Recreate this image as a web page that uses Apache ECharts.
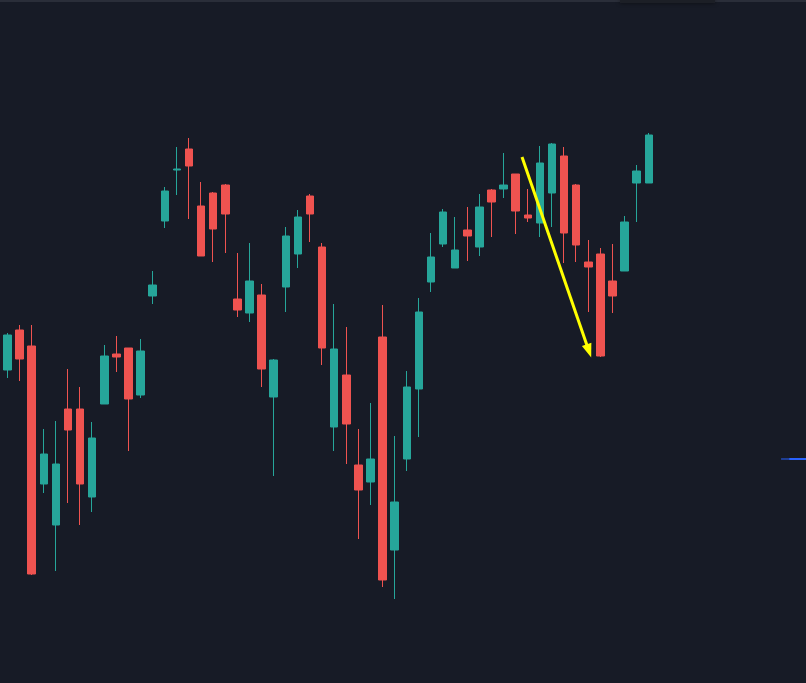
<!DOCTYPE html>
<html>
<head>
<meta charset="utf-8">
<style>
html,body{margin:0;padding:0;background:#171b26;}
#chart{width:806px;height:683px;}
</style>
<script src="https://cdn.jsdelivr.net/npm/echarts@6/dist/echarts.min.js"></script>
</head>
<body>
<div id="chart"></div>
<script>
// Candle values (price units), one entry per session
const opens  = [4230,4270,4254,4116,4075,4191,4191,4103,4196,4246,4252,4205,4304,4379,4430,4451,4394,4407,4415,4301,4287,4305,4203,4313,4346,4404,4353,4173,4225,4135,4118,4263,4050,4141,4211,4318,4356,4332,4370,4353,4410,4411,4426,4385,4377,4407,4444,4415,4338,4346,4319,4329,4417,4417];
const closes = [4265,4241,4026,4146,4136,4170,4116,4162,4244,4243,4201,4249,4315,4409,4431,4434,4344,4371,4386,4290,4319,4231,4240,4364,4383,4386,4252,4251,4176,4110,4141,4020,4098,4213,4288,4343,4388,4350,4364,4393,4398,4415,4389,4382,4437,4456,4367,4355,4333,4244,4304,4378,4429,4465];
const lows   = [4222,4219,4025,4107,4029,4097,4075,4088,4196,4228,4149,4202,4296,4372,4405,4381,4344,4338,4347,4283,4278,4213,4124,4288,4332,4358,4235,4149,4136,4061,4095,4013,4001,4129,4163,4308,4353,4332,4339,4344,4363,4402,4366,4378,4363,4373,4337,4338,4288,4243,4287,4329,4378,4417];
const highs  = [4267,4275,4275,4171,4179,4231,4213,4178,4255,4264,4252,4261,4329,4413,4453,4462,4418,4408,4416,4347,4357,4316,4241,4373,4390,4406,4357,4296,4273,4171,4197,4295,4164,4229,4302,4367,4391,4383,4393,4406,4411,4447,4426,4411,4454,4457,4453,4416,4360,4352,4356,4384,4435,4467];
const sessions = opens.map((_, i) => i); // category index per candle

// Annotation: drawn trend arrow (start -> end) in [session, price]
const arrowStart = [42.52, 4443];
const arrowEnd   = [48.05, 4249];
// Short price line at the right edge
const priceLineLevel = 4141;
const priceLineFrom  = 63.93;
const priceLineMid   = 64.6;
const priceLineTo    = 66;

const candleData = sessions.map(i => [i, opens[i], closes[i], lows[i], highs[i]]);

const chart = echarts.init(document.getElementById('chart'), null, {renderer: 'canvas'});
chart.setOption({
  backgroundColor: '#171b26',
  animation: false,
  grid: {left: 0, right: 0, top: 0, bottom: 0},
  xAxis: {
    type: 'value', min: -0.62, max: 65.99,
    show: false, splitLine: {show: false}
  },
  yAxis: {
    type: 'value', min: 3917, max: 4600,
    show: false, splitLine: {show: false}
  },
  graphic: [
    {type: 'rect', shape: {x: 0, y: 0, width: 806, height: 2}, style: {fill: '#2a2e39'}, z: 100},
    {type: 'rect', shape: {x: 620, y: 0, width: 95, height: 3}, style: {fill: '#1c1f26', shadowBlur: 4, shadowColor: 'rgba(0,0,0,0.6)'}, z: 101}
  ],
  series: [
    {
      type: 'candlestick',
      data: candleData,
      encode: {x: 0, y: [1, 2, 3, 4]},
      barWidth: 8,
      itemStyle: {
        color: '#26a69a', color0: '#ef5350',
        borderColor: '#26a69a', borderColor0: '#ef5350',
        borderWidth: 1
      },
      markLine: {
        silent: true,
        animation: false,
        label: {show: false},
        lineStyle: {color: '#ffff00', width: 3, type: 'solid'},
        data: [[
          {coord: arrowStart, symbol: 'none'},
          {coord: arrowEnd, symbol: 'triangle', symbolSize: [10, 14]}
        ]]
      }
    },
    {
      type: 'line',
      data: [[priceLineFrom, priceLineLevel], [priceLineMid, priceLineLevel]],
      symbol: 'none',
      lineStyle: {color: '#2962ff', width: 1},
      silent: true
    },
    {
      type: 'line',
      data: [[priceLineMid, priceLineLevel], [priceLineTo, priceLineLevel]],
      symbol: 'none',
      lineStyle: {color: '#2962ff', width: 2},
      silent: true
    }
  ]
});
</script>
</body>
</html>
